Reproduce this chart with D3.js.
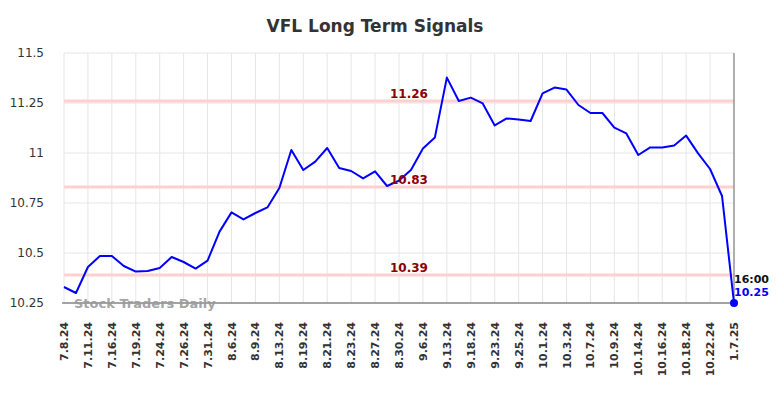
<!DOCTYPE html>
<html>
<head>
<meta charset="utf-8">
<script src="https://cdn.jsdelivr.net/npm/d3@7"></script>
<style>
  body { margin: 0; background: #fff; }
  svg { font-family: "DejaVu Sans", sans-serif; display: block; }
</style>
</head>
<body>
<div id="chart"></div>
<script>
const TITLE = "VFL Long Term Signals";
const TICK_LABELS = ["7.8.24", "7.11.24", "7.16.24", "7.19.24", "7.24.24", "7.26.24", "7.31.24",
  "8.6.24", "8.9.24", "8.13.24", "8.19.24", "8.21.24", "8.23.24", "8.27.24", "8.30.24",
  "9.6.24", "9.13.24", "9.18.24", "9.23.24", "9.25.24", "10.1.24", "10.3.24", "10.7.24",
  "10.9.24", "10.14.24", "10.16.24", "10.18.24", "10.22.24", "1.7.25"];
const PRICES = [10.33, 10.30, 10.43, 10.485, 10.485, 10.435, 10.407, 10.41, 10.425, 10.48,
  10.455, 10.422, 10.462, 10.607, 10.703, 10.668, 10.70, 10.728, 10.825, 11.015,
  10.915, 10.957, 11.025, 10.925, 10.91, 10.873, 10.908, 10.835, 10.862, 10.915,
  11.023, 11.078, 11.377, 11.26, 11.277, 11.248, 11.138, 11.173, 11.168, 11.16,
  11.298, 11.327, 11.317, 11.24, 11.20, 11.20, 11.127, 11.098, 10.99, 11.028,
  11.028, 11.038, 11.087, 10.998, 10.92, 10.785, 10.25];
const Y_TICKS = [10.25, 10.5, 10.75, 11, 11.25, 11.5];
const SIGNALS = [11.26, 10.83, 10.39];
const LAST_TIME = "16:00";

const width = 784, height = 398;
const margin = { top: 53, right: 50, bottom: 95, left: 64 };

const svg = d3.select("#chart").append("svg")
  .attr("width", width)
  .attr("height", height);

const x = d3.scaleLinear()
  .domain([0, PRICES.length - 1])
  .range([margin.left, width - margin.right]);

const y = d3.scaleLinear()
  .domain([10.25, 11.5])
  .range([height - margin.bottom, margin.top]);

// every other point carries a date label
const tickIdx = TICK_LABELS.map((d, i) => i * 2);

// grid
svg.append("g")
  .selectAll("line")
  .data(tickIdx)
  .join("line")
  .attr("x1", d => x(d)).attr("x2", d => x(d))
  .attr("y1", y(11.5)).attr("y2", y(10.25))
  .attr("stroke", "#e6e6e6");

svg.append("g")
  .selectAll("line")
  .data(Y_TICKS)
  .join("line")
  .attr("x1", x(0)).attr("x2", x(PRICES.length - 1))
  .attr("y1", d => y(d)).attr("y2", d => y(d))
  .attr("stroke", "#e6e6e6");

// signal lines
svg.append("g")
  .selectAll("line")
  .data(SIGNALS)
  .join("line")
  .attr("x1", x(0)).attr("x2", x(PRICES.length - 1))
  .attr("y1", d => y(d)).attr("y2", d => y(d))
  .attr("stroke", "#ffd0d0")
  .attr("stroke-width", 3);

// y axis labels
svg.append("g")
  .selectAll("text")
  .data(Y_TICKS)
  .join("text")
  .attr("x", 44)
  .attr("y", d => y(d) + 4)
  .attr("text-anchor", "end")
  .attr("font-size", 12)
  .attr("fill", "#333")
  .text(d3.format("~g"));

// x axis labels
svg.append("g")
  .selectAll("text")
  .data(tickIdx)
  .join("text")
  .attr("transform", d => `translate(${x(d) + 4},${y(10.25) + 19}) rotate(-90)`)
  .attr("text-anchor", "end")
  .attr("font-size", 11)
  .attr("font-weight", "bold")
  .attr("fill", "#333")
  .text((d, i) => TICK_LABELS[i]);

// right vertical line and bottom axis
svg.append("line")
  .attr("x1", x(PRICES.length - 1)).attr("x2", x(PRICES.length - 1))
  .attr("y1", y(11.5)).attr("y2", y(10.25))
  .attr("stroke", "#999").attr("stroke-width", 1.5);

svg.append("line")
  .attr("x1", x(0) - 2).attr("x2", x(PRICES.length - 1) + 2)
  .attr("y1", y(10.25)).attr("y2", y(10.25))
  .attr("stroke", "#555").attr("stroke-width", 1.2);

// watermark
svg.append("text")
  .attr("x", 74)
  .attr("y", y(10.25) + 5)
  .attr("font-size", 13)
  .attr("font-weight", "bold")
  .attr("fill", "#999")
  .attr("fill-opacity", 0.9)
  .text("Stock Traders Daily");

// price line
svg.append("path")
  .datum(PRICES)
  .attr("fill", "none")
  .attr("stroke", "#0000ff")
  .attr("stroke-width", 2)
  .attr("stroke-linejoin", "round")
  .attr("d", d3.line().x((d, i) => x(i)).y(d => y(d)));

// signal labels
svg.append("g")
  .selectAll("text")
  .data(SIGNALS)
  .join("text")
  .attr("x", 409)
  .attr("y", d => y(d) - 3)
  .attr("text-anchor", "middle")
  .attr("font-size", 12)
  .attr("font-weight", "bold")
  .attr("fill", "#8b0000")
  .text(d => d.toFixed(2));

// last point
const last = PRICES.length - 1;
svg.append("circle")
  .attr("cx", x(last))
  .attr("cy", y(PRICES[last]))
  .attr("r", 4)
  .attr("fill", "#0000ff");

svg.append("text")
  .attr("x", x(last))
  .attr("y", y(PRICES[last]) - 20)
  .attr("font-size", 11)
  .attr("font-weight", "bold")
  .attr("fill", "#111")
  .text(LAST_TIME);

svg.append("text")
  .attr("x", x(last))
  .attr("y", y(PRICES[last]) - 7)
  .attr("font-size", 11)
  .attr("font-weight", "bold")
  .attr("fill", "#0000ff")
  .text(PRICES[last].toFixed(2));

// title
svg.append("text")
  .attr("x", 375)
  .attr("y", 32)
  .attr("text-anchor", "middle")
  .attr("font-size", 17)
  .attr("font-weight", "bold")
  .attr("fill", "#333")
  .text(TITLE);
</script>
</body>
</html>
